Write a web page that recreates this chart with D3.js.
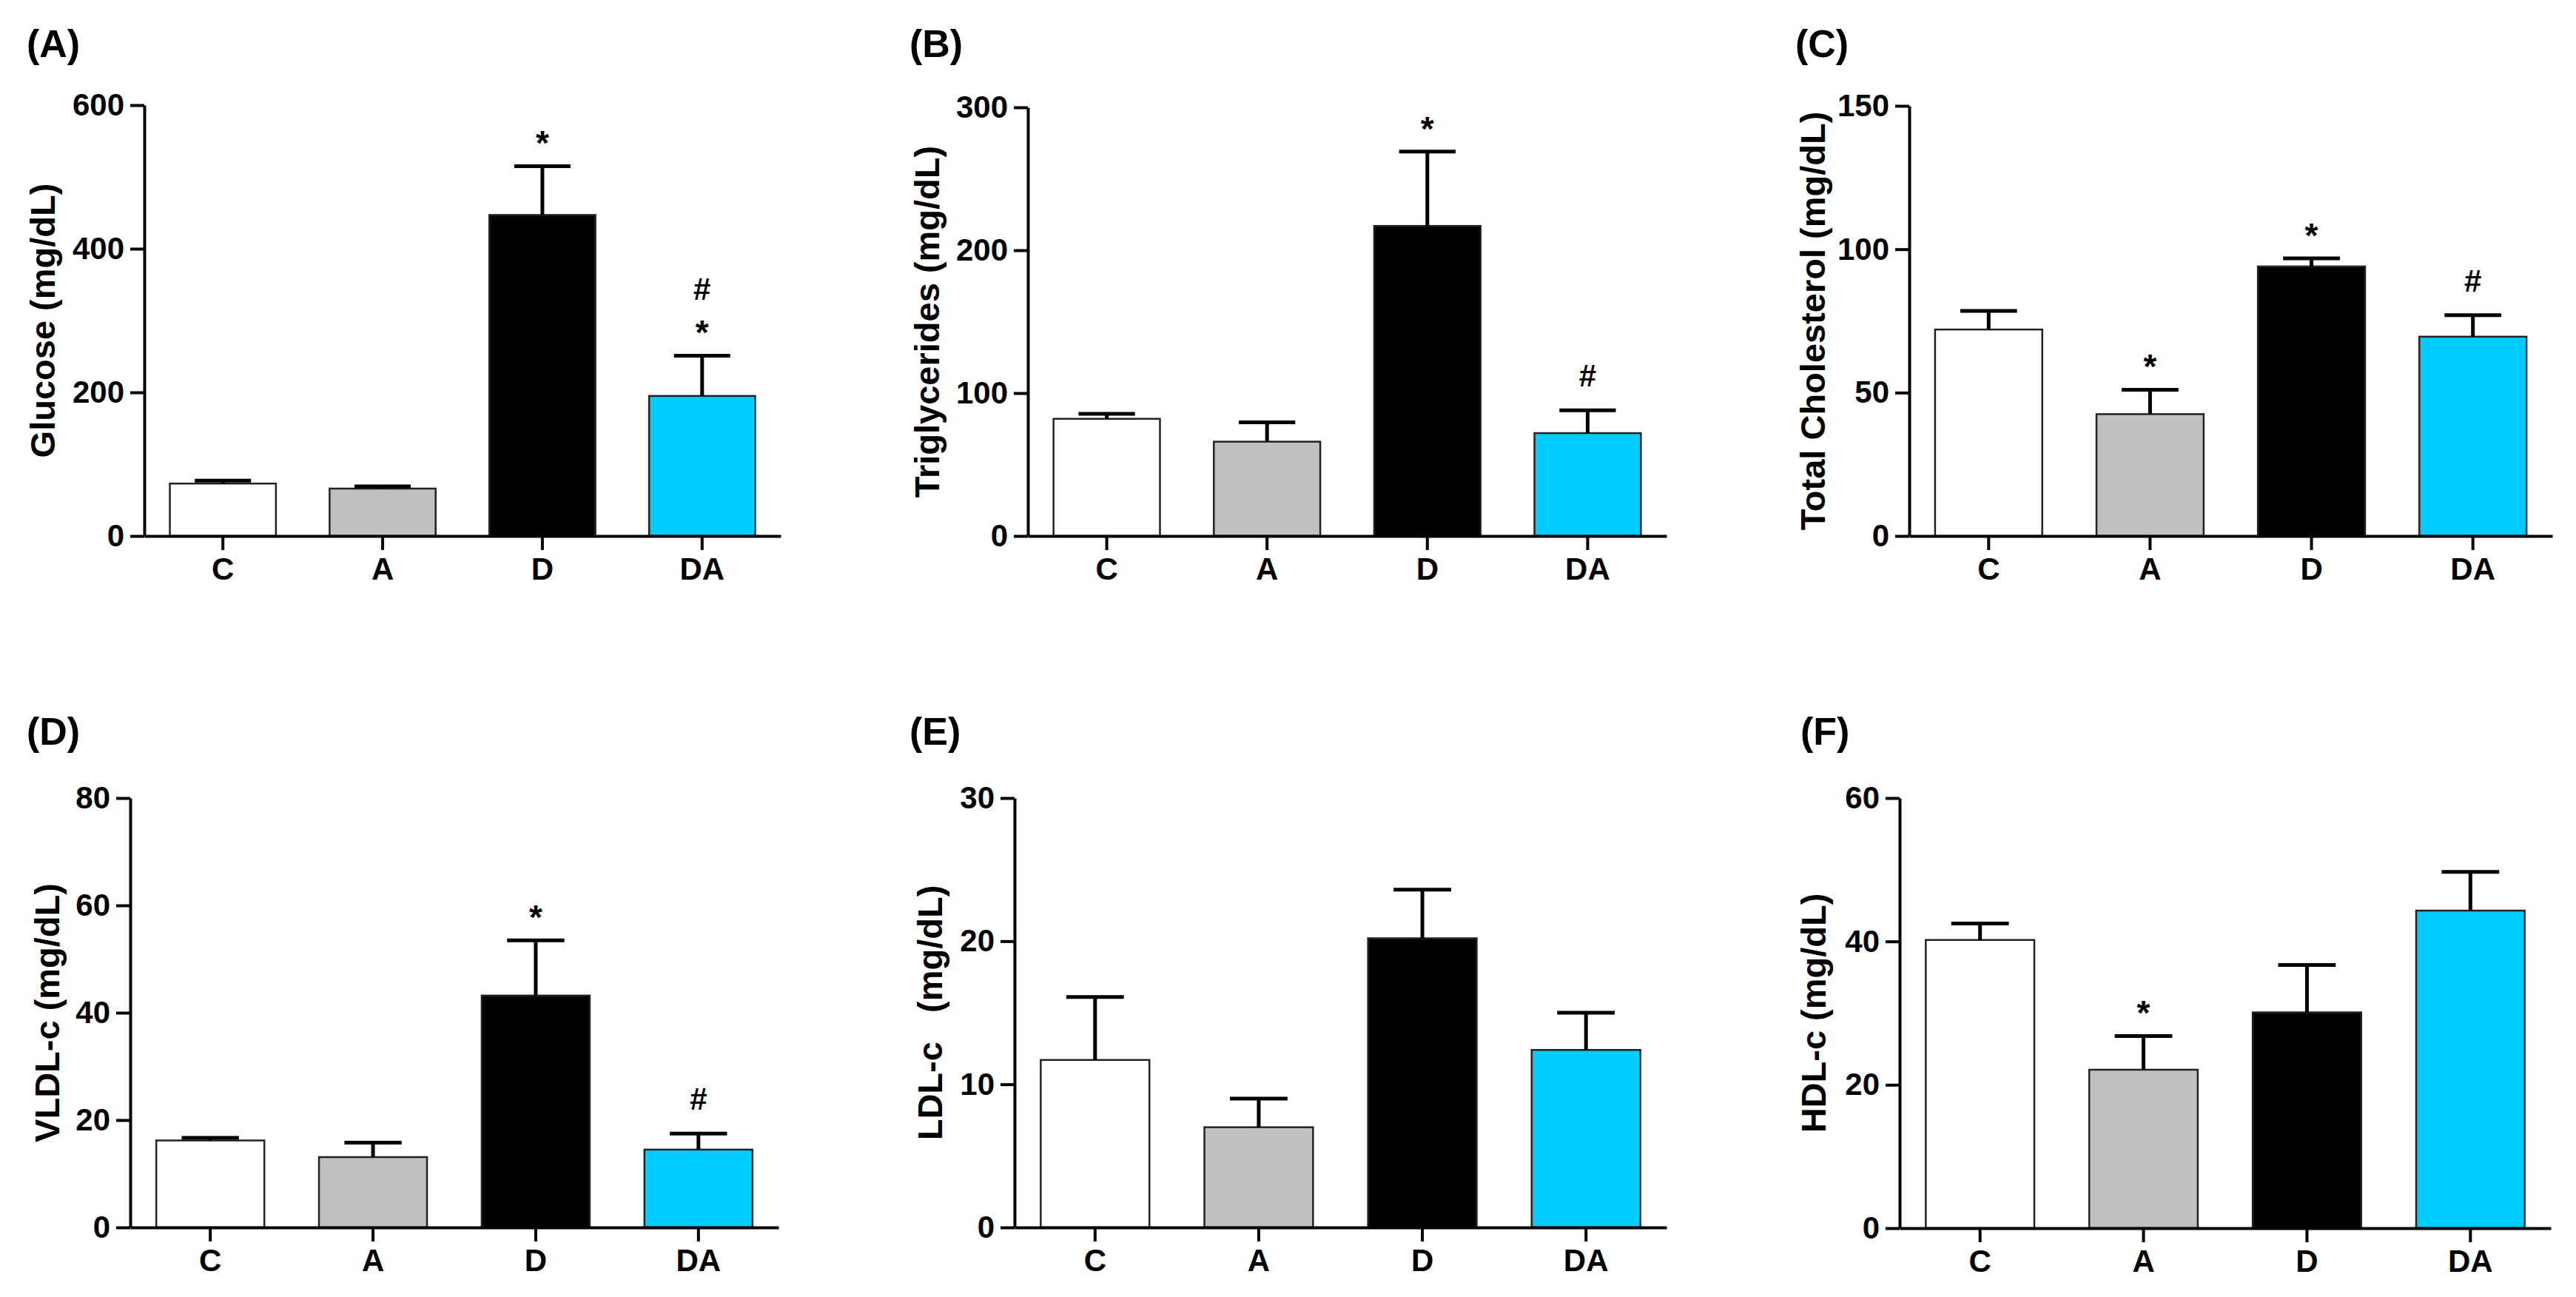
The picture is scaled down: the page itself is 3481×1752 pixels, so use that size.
<!DOCTYPE html>
<html>
<head>
<meta charset="utf-8">
<script src="https://cdn.jsdelivr.net/npm/d3@7"></script>
<style>
  body { margin: 0; background: #fff; }
  text { font-family: "Liberation Sans", Arial, sans-serif; font-weight: bold; fill: #000; }
</style>
</head>
<body>
<div id="chart"></div>
<script>
// groups shown on every x axis
const groups = ["C", "A", "D", "DA"];
const barColors = ["#ffffff", "#c0c0c0", "#000000", "#00ccff"];

// (A) glucose
const glucose = [73, 66, 447, 195];
const glucoseSem = [4, 3, 68, 56];
const glucoseMarks = ["", "", "*", "*#"];
const glucoseTicks = [0, 200, 400, 600];

// (B) triglycerides
const triglycerides = [82, 66, 217, 72];
const triglyceridesSem = [3.5, 13.5, 52, 16];
const triglyceridesMarks = ["", "", "*", "#"];
const triglyceridesTicks = [0, 100, 200, 300];

// (C) total cholesterol
const cholesterol = [72, 42.5, 94, 69.5];
const cholesterolSem = [6.5, 8.5, 2.8, 7.5];
const cholesterolMarks = ["", "*", "*", "#"];
const cholesterolTicks = [0, 50, 100, 150];

// (D) VLDL-c
const vldl = [16.2, 13.1, 43.2, 14.5];
const vldlSem = [0.5, 2.7, 10.3, 3.0];
const vldlMarks = ["", "", "*", "#"];
const vldlTicks = [0, 20, 40, 60, 80];

// (E) LDL-c
const ldl = [11.7, 7.0, 20.2, 12.4];
const ldlSem = [4.4, 2.0, 3.4, 2.6];
const ldlMarks = ["", "", "", ""];
const ldlTicks = [0, 10, 20, 30];

// (F) HDL-c
const hdl = [40.2, 22.1, 30.1, 44.3];
const hdlSem = [2.3, 4.7, 6.6, 5.4];
const hdlMarks = ["", "*", "", ""];
const hdlTicks = [0, 20, 40, 60];

// panel layout (pixel boxes of each plot)
const panels = [
  { tag: "(A)", title: "Glucose (mg/dL)", values: glucose, sem: glucoseSem, marks: glucoseMarks, ticks: glucoseTicks,
    x0: 195, x1: 1055, yTop: 142, yZero: 724, titleOff: 121, tagX: 36, tagY: 77 },
  { tag: "(B)", title: "Triglycerides (mg/dL)", values: triglycerides, sem: triglyceridesSem, marks: triglyceridesMarks, ticks: triglyceridesTicks,
    x0: 1389, x1: 2252, yTop: 145, yZero: 724, titleOff: 120, tagX: 1229, tagY: 77 },
  { tag: "(C)", title: "Total Cholesterol (mg/dL)", values: cholesterol, sem: cholesterolSem, marks: cholesterolMarks, ticks: cholesterolTicks,
    x0: 2580, x1: 3449, yTop: 143, yZero: 724, titleOff: 114, tagX: 2426, tagY: 77 },
  { tag: "(D)", title: "VLDL-c (mg/dL)", values: vldl, sem: vldlSem, marks: vldlMarks, ticks: vldlTicks,
    x0: 176, x1: 1052, yTop: 1078, yZero: 1658, titleOff: 96, tagX: 36, tagY: 1006 },
  { tag: "(E)", title: "LDL-c\u00a0\u00a0\u00a0(mg/dL)", values: ldl, sem: ldlSem, marks: ldlMarks, ticks: ldlTicks,
    x0: 1371, x1: 2252, yTop: 1078, yZero: 1658, titleOff: 98, tagX: 1229, tagY: 1006 },
  { tag: "(F)", title: "HDL-c (mg/dL)", values: hdl, sem: hdlSem, marks: hdlMarks, ticks: hdlTicks,
    x0: 2567, x1: 3447, yTop: 1078, yZero: 1659, titleOff: 100, tagX: 2433, tagY: 1006 }
];

const svg = d3.select("#chart")
  .append("svg")
  .attr("width", 3481)
  .attr("height", 1752);

panels.forEach(p => {
  const g = svg.append("g");

  const x = d3.scaleBand()
    .domain(groups)
    .range([p.x0, p.x1])
    .paddingInner(0.336)
    .paddingOuter(0.16);

  const y = d3.scaleLinear()
    .domain([0, p.ticks[p.ticks.length - 1]])
    .range([p.yZero, p.yTop]);

  // bars
  g.selectAll(".bar")
    .data(groups)
    .join("rect")
    .attr("x", d => x(d))
    .attr("y", (d, i) => y(p.values[i]))
    .attr("width", x.bandwidth())
    .attr("height", (d, i) => y(0) - y(p.values[i]))
    .attr("fill", (d, i) => barColors[i])
    .attr("stroke", "#222")
    .attr("stroke-width", 2.5);

  // upper error bars
  const capW = x.bandwidth() * 0.53;
  groups.forEach((d, i) => {
    const cx = x(d) + x.bandwidth() / 2;
    const top = y(p.values[i] + p.sem[i]);
    g.append("line")
      .attr("x1", cx).attr("x2", cx)
      .attr("y1", y(p.values[i])).attr("y2", top)
      .attr("stroke", "#000").attr("stroke-width", 5);
    g.append("line")
      .attr("x1", cx - capW / 2).attr("x2", cx + capW / 2)
      .attr("y1", top).attr("y2", top)
      .attr("stroke", "#000").attr("stroke-width", 5);

    // significance marks stacked above the error bar
    let c = top;
    p.marks[i].split("").forEach((ch, k) => {
      c -= k === 0 ? (ch === "*" ? 42 : 47) : 49;
      const fs = ch === "*" ? 46 : 42;
      g.append("text")
        .attr("x", cx)
        .attr("y", c + (ch === "*" ? 0.58 : 0.36) * fs)
        .attr("text-anchor", "middle")
        .style("font-size", fs + "px")
        .text(ch);
    });
  });

  // y axis
  const yAxis = g.append("g")
    .attr("transform", `translate(${p.x0},0)`)
    .call(d3.axisLeft(y).tickValues(p.ticks).tickSize(19).tickSizeOuter(0).tickPadding(8).tickFormat(d3.format("d")));

  // x axis
  const xAxis = g.append("g")
    .attr("transform", `translate(0,${p.yZero})`)
    .call(d3.axisBottom(x).tickSize(19).tickSizeOuter(0).tickPadding(10));

  [yAxis, xAxis].forEach(ax => {
    ax.select(".domain").attr("stroke", "#000").attr("stroke-width", 4);
    ax.selectAll(".tick line").attr("stroke", "#000").attr("stroke-width", 4);
    ax.selectAll(".tick text")
      .style("font-size", "42px")
      .style("font-family", "'Liberation Sans', Arial, sans-serif")
      .style("font-weight", "bold")
      .attr("fill", "#000");
  });

  // y axis title
  g.append("text")
    .attr("transform", `translate(${p.x0 - p.titleOff},${(p.yTop + p.yZero) / 2}) rotate(-90)`)
    .attr("text-anchor", "middle")
    .style("font-size", "47px")
    .text(p.title);

  // panel tag
  g.append("text")
    .attr("x", p.tagX)
    .attr("y", p.tagY)
    .style("font-size", "52px")
    .text(p.tag);
});
</script>
</body>
</html>
